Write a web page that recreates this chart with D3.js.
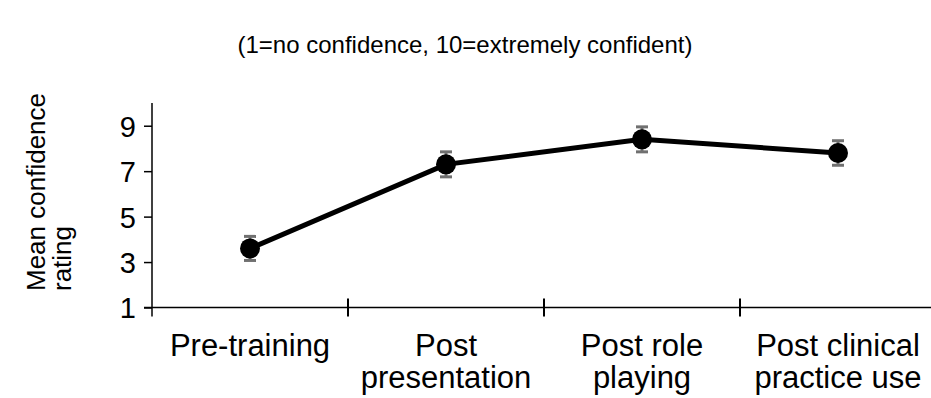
<!DOCTYPE html>
<html>
<head>
<meta charset="utf-8">
<script src="https://cdn.jsdelivr.net/npm/d3@7"></script>
<style>
    body { margin: 0; background: #fff; }
    text { font-family: "Liberation Sans", Arial, sans-serif; fill: #000; }
</style>
</head>
<body>
<div id="chart"></div>
<script>
// data
const stages = ["Pre-training", "Post presentation", "Post role playing", "Post clinical practice use"];
const stageLines = [["Pre-training"], ["Post", "presentation"], ["Post role", "playing"], ["Post clinical", "practice use"]];
const meanRating = [3.6, 7.3, 8.4, 7.8];
const errRating = [0.53, 0.55, 0.55, 0.54];
const yTicks = [1, 3, 5, 7, 9];

class ConfidenceVis {

    constructor(parentElement) {
        this.parentElement = parentElement;
        this.initVis();
    }

    initVis() {
        let vis = this;

        vis.svg = d3.select("#" + vis.parentElement).append("svg")
            .attr("width", 931)
            .attr("height", 398);

        vis.margin = {top: 103, left: 152, bottom: 307.5};

        // scales
        vis.y = d3.scaleLinear()
            .domain([1, 10])
            .range([vis.margin.bottom, vis.margin.top]);

        vis.x = d3.scaleBand()
            .domain(stages)
            .range([vis.margin.left, vis.margin.left + 4 * 196]);

        // title
        vis.svg.append("text")
            .attr("x", 465)
            .attr("y", 53)
            .attr("text-anchor", "middle")
            .style("font-size", "24px")
            .text("(1=no confidence, 10=extremely confident)");

        // y axis
        let yAxis = vis.svg.append("g")
            .attr("transform", "translate(" + vis.margin.left + ",0)")
            .call(d3.axisLeft(vis.y).tickValues(yTicks).tickSize(8).tickPadding(8));
        yAxis.select(".domain")
            .attr("d", "M0," + (vis.margin.bottom + 9) + "V" + vis.margin.top)
            .attr("stroke-width", 1.5);
        yAxis.selectAll(".tick line").attr("stroke-width", 1.5);
        yAxis.selectAll(".tick text")
            .style("font-size", "29px")
            .style("font-family", "'Liberation Sans', Arial, sans-serif")
            .attr("dy", "0.36em");

        // x axis: line with crossing ticks on category boundaries
        let xAxis = vis.svg.append("g");
        xAxis.append("line")
            .attr("x1", vis.margin.left - 8)
            .attr("x2", 931)
            .attr("y1", vis.margin.bottom)
            .attr("y2", vis.margin.bottom)
            .attr("stroke", "#000")
            .attr("stroke-width", 1.5);
        xAxis.selectAll(".xtick")
            .data(stages.slice(1))
            .enter()
            .append("line")
            .attr("x1", d => vis.x(d))
            .attr("x2", d => vis.x(d))
            .attr("y1", vis.margin.bottom - 9)
            .attr("y2", vis.margin.bottom + 9)
            .attr("stroke", "#000")
            .attr("stroke-width", 2);

        xAxis.selectAll(".xlabel")
            .data(stages)
            .enter()
            .append("text")
            .attr("text-anchor", "middle")
            .attr("x", d => vis.x(d) + vis.x.bandwidth() / 2)
            .attr("y", 356)
            .style("font-size", "31px")
            .each(function (d, i) {
                d3.select(this).selectAll("tspan")
                    .data(stageLines[i])
                    .enter()
                    .append("tspan")
                    .attr("x", vis.x(d) + vis.x.bandwidth() / 2)
                    .attr("dy", (t, j) => j === 0 ? 0 : 32)
                    .text(t => t);
            });

        // y label
        vis.svg.append("g")
            .attr("transform", "translate(0,291) rotate(-90)")
            .selectAll("text")
            .data(["Mean confidence", "rating"])
            .enter()
            .append("text")
            .attr("x", 0)
            .attr("y", (d, i) => 45 + i * 26)
            .style("font-size", "26px")
            .text(d => d);

        // line
        let cx = (d, i) => vis.x(stages[i]) + vis.x.bandwidth() / 2;
        vis.svg.append("path")
            .datum(meanRating)
            .attr("d", d3.line().x(cx).y(d => vis.y(d)))
            .attr("fill", "none")
            .attr("stroke", "#000")
            .attr("stroke-width", 5);

        // error bars
        let err = vis.svg.selectAll(".err")
            .data(meanRating)
            .enter()
            .append("g")
            .attr("stroke", "#707070")
            .attr("stroke-width", 3);
        err.append("line")
            .attr("x1", cx).attr("x2", cx)
            .attr("y1", (d, i) => vis.y(d - errRating[i]))
            .attr("y2", (d, i) => vis.y(d + errRating[i]));
        [-1, 1].forEach(s => {
            err.append("line")
                .attr("x1", (d, i) => cx(d, i) - 6)
                .attr("x2", (d, i) => cx(d, i) + 6)
                .attr("y1", (d, i) => vis.y(d + s * errRating[i]))
                .attr("y2", (d, i) => vis.y(d + s * errRating[i]));
        });

        // markers
        vis.svg.selectAll(".dot")
            .data(meanRating)
            .enter()
            .append("circle")
            .attr("cx", cx)
            .attr("cy", d => vis.y(d))
            .attr("r", 10)
            .attr("fill", "#000");
    }
}

new ConfidenceVis("chart");
</script>
</body>
</html>
